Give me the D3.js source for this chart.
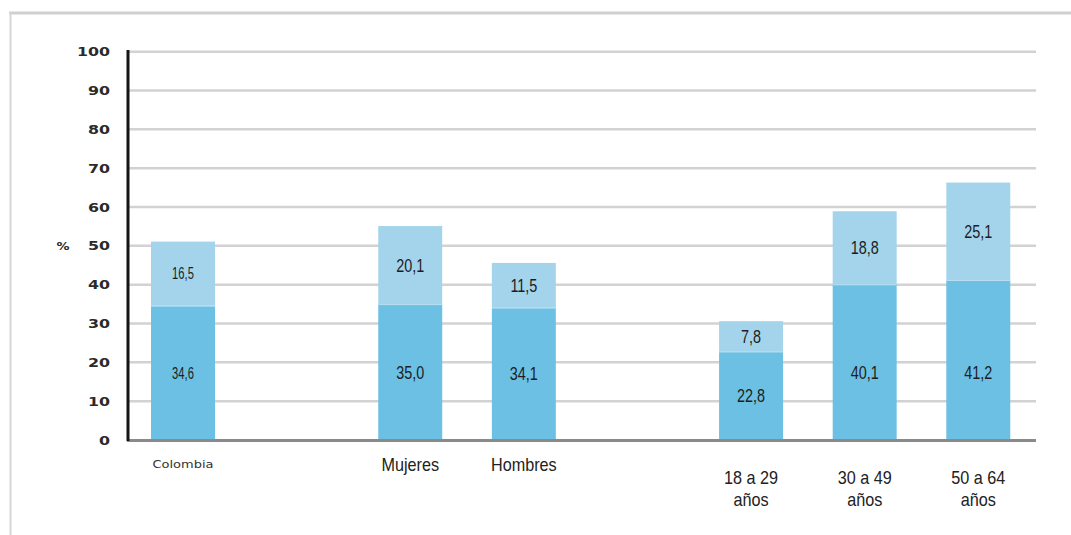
<!DOCTYPE html>
<html>
<head>
<meta charset="utf-8">
<script src="https://cdn.jsdelivr.net/npm/d3@7/dist/d3.min.js"></script>
<style>
  html, body { margin: 0; padding: 0; background: #fff; }
  svg { display: block; }
</style>
</head>
<body>
<svg id="chart" width="1071" height="535"></svg>
<script>
// Categories, grouped (one empty slot is left between groups)
const groups = [
  ["Colombia"],
  ["Mujeres", "Hombres"],
  ["18 a 29 años", "30 a 49 años", "50 a 64 años"]
];
const categories = groups.flat();
// Lower (darker) segment values, %
const seriesLower = [34.6, 35.0, 34.1, 22.8, 40.1, 41.2];
// Upper (lighter) segment values, %
const seriesUpper = [16.5, 20.1, 11.5, 7.8, 18.8, 25.1];
const yTicks = [0, 10, 20, 30, 40, 50, 60, 70, 80, 90, 100];
const axisTitle = "%";

const colorLower = "#6bc0e3";
const colorUpper = "#a3d4ec";

const svg = d3.select("#chart");

// Outer frame: top and left rules
svg.append("line").attr("x1", 9).attr("x2", 1071).attr("y1", 13).attr("y2", 13)
  .attr("stroke", "#cfcfcf").attr("stroke-width", 3);
svg.append("line").attr("x1", 10.5).attr("x2", 10.5).attr("y1", 12).attr("y2", 535)
  .attr("stroke", "#d6d6d6").attr("stroke-width", 2);

// Slot layout: each category gets a slot, groups separated by one empty slot
const slots = [];
let s = 0;
groups.forEach((g, gi) => {
  if (gi > 0) s += 1;
  g.forEach(c => { slots.push({ cat: c, slot: s }); s += 1; });
});
const slotCount = s;
const slotOf = new Map(slots.map(d => [d.cat, d.slot]));

const x = d3.scaleBand()
  .domain(d3.range(slotCount))
  .range([128.3, 1033])
  .paddingInner(0.437)
  .paddingOuter(0.2);

const y = d3.scaleLinear().domain([0, 100]).range([440, 51.7]);

const xLeft = 128, xRight = 1036;

// Gridlines
svg.append("g").selectAll("line")
  .data(yTicks.filter(t => t > 0))
  .join("line")
  .attr("x1", xLeft).attr("x2", xRight)
  .attr("y1", d => y(d)).attr("y2", d => y(d))
  .attr("stroke", "#d2d2d2").attr("stroke-width", 2.5);

// Y tick labels (wide geometric lettering)
const yLab = svg.append("g");
yTicks.forEach(t => {
  yLab.append("text")
    .attr("transform", `translate(110,${y(t) + 4.5}) scale(1.38,1)`)
    .attr("text-anchor", "end")
    .attr("font-family", "DejaVu Sans")
    .attr("font-weight", "bold")
    .attr("font-size", 11.5)
    .attr("fill", "#2a2a2a")
    .text(t);
});
svg.append("text")
  .attr("transform", `translate(63,${y(50) + 4.5}) scale(1.3,1)`)
  .attr("text-anchor", "middle")
  .attr("font-family", "DejaVu Sans")
  .attr("font-weight", "bold")
  .attr("font-size", 10)
  .attr("fill", "#2a2a2a")
  .text(axisTitle);

// Stacked bars
const data = categories.map((c, i) => ({ cat: c, lo: seriesLower[i], up: seriesUpper[i] }));
const bars = svg.append("g");
bars.selectAll("rect.lo").data(data).join("rect")
  .attr("class", "lo")
  .attr("x", d => x(slotOf.get(d.cat)))
  .attr("width", x.bandwidth())
  .attr("y", d => y(d.lo))
  .attr("height", d => y(0) - y(d.lo))
  .attr("fill", colorLower);
bars.selectAll("rect.up").data(data).join("rect")
  .attr("class", "up")
  .attr("x", d => x(slotOf.get(d.cat)))
  .attr("width", x.bandwidth())
  .attr("y", d => y(d.lo + d.up))
  .attr("height", d => y(d.lo) - y(d.lo + d.up))
  .attr("fill", colorUpper);
// faint seam between segments
bars.selectAll("line.seam").data(data).join("line")
  .attr("class", "seam")
  .attr("x1", d => x(slotOf.get(d.cat)))
  .attr("x2", d => x(slotOf.get(d.cat)) + x.bandwidth())
  .attr("y1", d => y(d.lo) + 0.5).attr("y2", d => y(d.lo) + 0.5)
  .attr("stroke", "#b9e0f1").attr("stroke-width", 1);

const fmt = v => v.toFixed(1).replace(".", ",");
const labelFont = "'Liberation Sans', Arial, sans-serif";

// condensed text helper: draws centred text squeezed horizontally
function narrowText(g, cx, baseY, str, size, sx, fill) {
  return g.append("text")
    .attr("transform", `translate(${cx},${baseY}) scale(${sx},1)`)
    .attr("text-anchor", "middle")
    .attr("font-family", labelFont)
    .attr("font-size", size)
    .attr("fill", fill || "#1d1d1d")
    .text(str);
}

// Value labels inside segments; lower labels sit no higher than 17.5 %
const lowerLabelCap = 17.5;
const vl = svg.append("g");
data.forEach((d, i) => {
  const cx = x(slotOf.get(d.cat)) + x.bandwidth() / 2;
  const small = i === 0;
  const fs = small ? 16 : 18;
  const sx = small ? 0.7 : 0.8;
  const yLo = y(Math.min(d.lo / 2, lowerLabelCap));
  const yUp = y(d.lo + d.up / 2);
  narrowText(vl, cx, yLo + fs * 0.36, fmt(d.lo), fs, sx);
  narrowText(vl, cx, yUp + fs * 0.36, fmt(d.up), fs, sx);
});

// Axis lines
svg.append("line").attr("x1", 127).attr("x2", xRight).attr("y1", 440.5).attr("y2", 440.5)
  .attr("stroke", "#8a8a8a").attr("stroke-width", 3);
svg.append("line").attr("x1", 128).attr("x2", 128).attr("y1", 50).attr("y2", 441)
  .attr("stroke", "#151515").attr("stroke-width", 3);

// Category labels
const cl = svg.append("g");
data.forEach((d, i) => {
  const cx = x(slotOf.get(d.cat)) + x.bandwidth() / 2;
  if (i === 0) {
    // first category uses the wide lettering of the value axis
    cl.append("text")
      .attr("transform", `translate(${cx},468) scale(1.3,1)`)
      .attr("text-anchor", "middle")
      .attr("font-family", "DejaVu Sans")
      .attr("font-size", 10)
      .attr("fill", "#333")
      .text(d.cat);
    return;
  }
  const words = d.cat.split(" ");
  const lines = words.length > 2 ? [words.slice(0, 3).join(" "), words.slice(3).join(" ")] : [d.cat];
  lines.forEach((ln, k) => {
    const baseY = (lines.length > 1 ? 484 : 471) + k * 22;
    narrowText(cl, cx, baseY, ln, 18, 0.9, "#222");
  });
});
</script>
</body>
</html>
